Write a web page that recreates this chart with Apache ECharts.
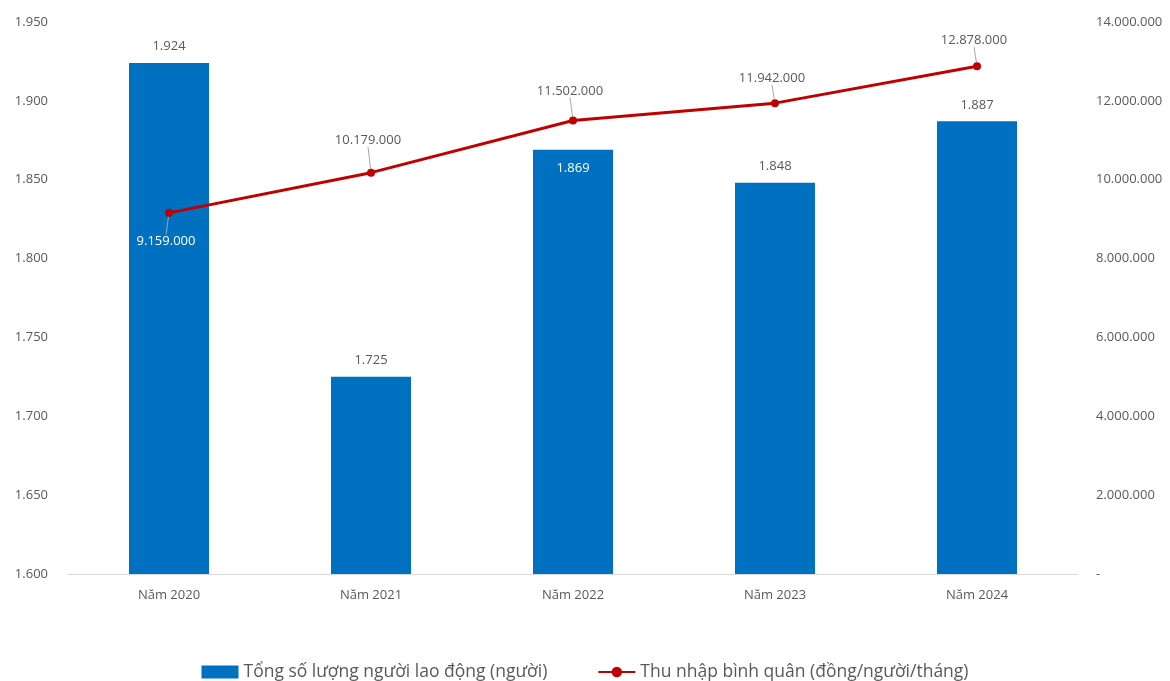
<!DOCTYPE html>
<html>
<head>
<meta charset="utf-8">
<script src="https://cdn.jsdelivr.net/npm/echarts@6/dist/echarts.min.js"></script>
<style>
  html, body { margin: 0; padding: 0; background: #fff; }
  #chart { width: 1170px; height: 681px; }
</style>
</head>
<body>
<div id="chart"></div>
<script>
var years = ['Năm 2020', 'Năm 2021', 'Năm 2022', 'Năm 2023', 'Năm 2024'];
var workers = [1924, 1725, 1869, 1848, 1887];
var income = [9159000, 10179000, 11502000, 11942000, 12878000];

function fmt(v) {
  return String(v).replace(/\B(?=(\d{3})+(?!\d))/g, '.');
}

var font = 'Open Sans';
var gray = '#595959';

var barData = workers.map(function (v, i) {
  if (i === 2) {
    return { value: v, label: { position: 'insideTop', color: '#fff', distance: 12 } };
  }
  return v;
});

var lineData = income.map(function (v, i) {
  if (i === 0) {
    return { value: v, label: { position: 'bottom', color: '#fff' } };
  }
  return v;
});

// label shifts so the callout lines look like the original
var labelDy = [10, -14, -11, -6, -7];

var chart = echarts.init(document.getElementById('chart'));
chart.setOption({
  textStyle: { fontFamily: font },
  grid: { left: 68, right: 92, top: 22, bottom: 107 },
  legend: {
    top: 658,
    itemGap: 50,
    itemWidth: 37,
    itemHeight: 13,
    textStyle: { color: gray, fontSize: 17.5, fontFamily: font },
    data: [
      { name: 'Tổng số lượng người lao động (người)', icon: 'rect' },
      { name: 'Thu nhập bình quân (đồng/người/tháng)' }
    ]
  },
  xAxis: {
    type: 'category',
    data: years,
    axisLine: { lineStyle: { color: '#d9d9d9', width: 1 } },
    axisTick: { show: false },
    axisLabel: { color: gray, fontSize: 13, margin: 15 }
  },
  yAxis: [
    {
      type: 'value',
      min: 1600,
      max: 1950,
      interval: 50,
      splitLine: { show: false },
      axisLine: { show: false },
      axisTick: { show: false },
      axisLabel: { color: gray, fontSize: 13, margin: 20, formatter: fmt }
    },
    {
      type: 'value',
      min: 0,
      max: 14000000,
      interval: 2000000,
      splitLine: { show: false },
      axisLine: { show: false },
      axisTick: { show: false },
      axisLabel: {
        color: gray, fontSize: 13, margin: 18, align: 'left',
        formatter: function (v) { return v === 0 ? '-' : fmt(v); }
      }
    }
  ],
  series: [
    {
      name: 'Tổng số lượng người lao động (người)',
      type: 'bar',
      barWidth: 80,
      itemStyle: { color: '#0070C0' },
      label: {
        show: true,
        position: 'top',
        distance: 10,
        color: gray,
        fontSize: 13,
        formatter: function (p) { return fmt(p.value); }
      },
      data: barData
    },
    {
      name: 'Thu nhập bình quân (đồng/người/tháng)',
      type: 'line',
      yAxisIndex: 1,
      symbol: 'circle',
      symbolSize: 8,
      itemStyle: { color: '#C00000' },
      lineStyle: { color: '#C00000', width: 3 },
      label: {
        show: true,
        position: 'top',
        distance: 8,
        color: gray,
        fontSize: 13,
        formatter: function (p) { return fmt(p.value); }
      },
      labelLine: { show: true, lineStyle: { color: '#a6a6a6', width: 1 } },
      labelLayout: function (p) {
        return { dx: -3, dy: labelDy[p.dataIndex] };
      },
      data: lineData
    }
  ]
});
</script>
</body>
</html>
